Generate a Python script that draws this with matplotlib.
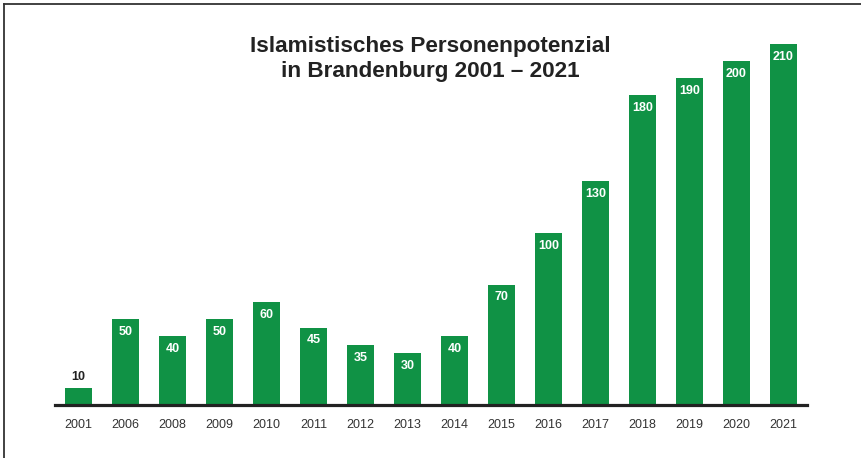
import matplotlib.pyplot as plt
from matplotlib.lines import Line2D

plt.rcParams['font.family'] = ['Liberation Sans', 'DejaVu Sans']

years = ['2001', '2006', '2008', '2009', '2010', '2011', '2012', '2013',
         '2014', '2015', '2016', '2017', '2018', '2019', '2020', '2021']
persons = [10, 50, 40, 50, 60, 45, 35, 30, 40, 70, 100, 130, 180, 190, 200, 210]

W, H = 861, 458
fig = plt.figure(figsize=(W / 100, H / 100), dpi=100)
ax = fig.add_axes([55 / W, (H - 405) / H, (807 - 55) / W, (405 - 26.6) / H])

green = '#109245'
x = range(len(years))
ax.bar(x, persons, width=0.57, color=green, zorder=2)

for i, v in enumerate(persons):
    if v < 20:
        ax.text(i, v + 3, str(v), ha='center', va='bottom', fontsize=9,
                fontweight='bold', color='#222222')
    else:
        ax.text(i, v - 4, str(v), ha='center', va='top', fontsize=9,
                fontweight='bold', color='white')

ax.set_xlim(-0.5, 15.5)
ax.set_ylim(0, 220)
ax.set_xticks(list(x))
ax.set_xticklabels(years, fontsize=9, color='#333333')
ax.tick_params(axis='x', length=0, pad=10)
ax.set_yticks([])
for s in ['top', 'right', 'left']:
    ax.spines[s].set_visible(False)
ax.spines['bottom'].set_color('#222222')
ax.spines['bottom'].set_linewidth(2.3)
ax.spines['bottom'].set_zorder(3)

fig.text(430 / W, 1 - 59 / H, 'Islamistisches Personenpotenzial\nin Brandenburg 2001 – 2021',
         ha='center', va='center', fontsize=16.2, fontweight='bold',
         color='#222222', linespacing=1.2)

# frame around the chart (only top and left edges visible)
fig.add_artist(Line2D([3.5 / W, 3.5 / W], [0, 1 - 3.5 / H], transform=fig.transFigure,
                      color='#333333', lw=1.3))
fig.add_artist(Line2D([3.5 / W, 1], [1 - 3.5 / H, 1 - 3.5 / H], transform=fig.transFigure,
                      color='#333333', lw=1.3))

fig.savefig('out.png', dpi=100)
